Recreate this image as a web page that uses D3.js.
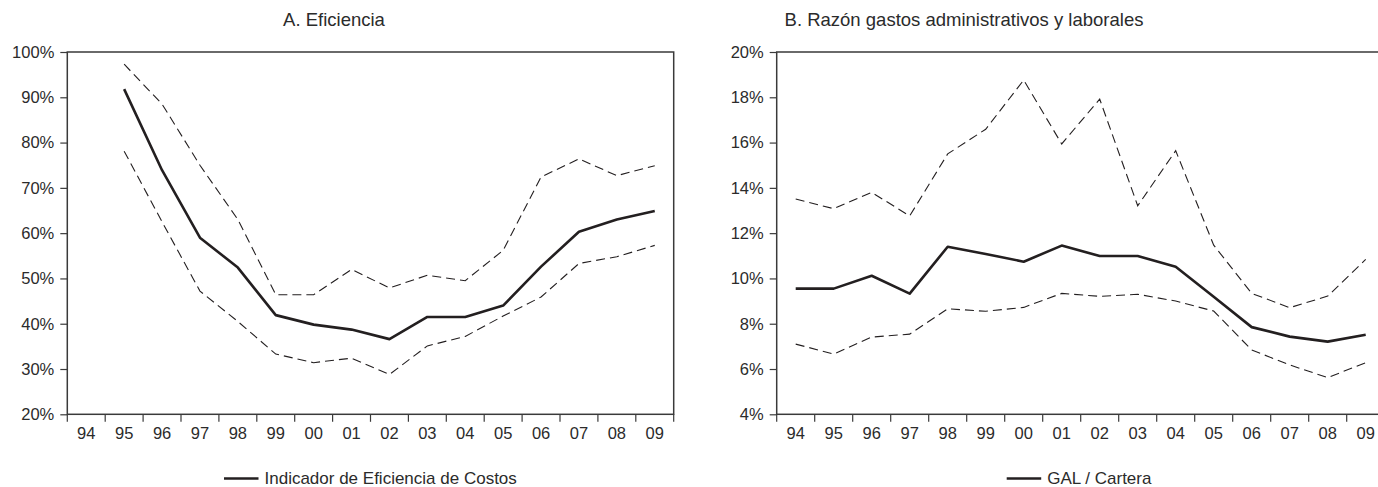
<!DOCTYPE html>
<html>
<head>
<meta charset="utf-8">
<script src="https://cdn.jsdelivr.net/npm/d3@7/dist/d3.min.js"></script>
<style>
  html, body { margin: 0; padding: 0; background: #fff; }
  svg { display: block; font-family: "Liberation Sans", Arial, Helvetica, sans-serif; }
</style>
</head>
<body>
<svg id="chart" width="1378" height="487"></svg>
<script>
// ---------- data ----------
const years = ["94","95","96","97","98","99","00","01","02","03","04","05","06","07","08","09"];

// Panel A: Eficiencia (%)
const effMain  = [null, 91.8, 73.9, 59.0, 52.4, 41.9, 39.8, 38.7, 36.6, 41.5, 41.5, 44.0, 52.6, 60.3, 63.0, 64.9];
const effUpper = [null, 97.3, 88.5, 75.0, 63.0, 46.4, 46.4, 52.0, 47.9, 50.7, 49.5, 56.2, 72.4, 76.4, 72.7, 74.9];
const effLower = [null, 78.1, 62.5, 47.2, 40.5, 33.3, 31.4, 32.4, 28.8, 35.1, 37.2, 41.7, 45.9, 53.3, 54.8, 57.3];
const effTicks = [20, 30, 40, 50, 60, 70, 80, 90, 100];

// Panel B: GAL / Cartera (%)
const galMain  = [9.55, 9.55, 10.12, 9.33, 11.40, 11.08, 10.74, 11.45, 10.99, 10.99, 10.52, 9.19, 7.85, 7.43, 7.21, 7.51];
const galUpper = [13.51, 13.08, 13.80, 12.76, 15.50, 16.59, 18.76, 15.94, 17.92, 13.21, 15.64, 11.47, 9.34, 8.71, 9.22, 10.84];
const galLower = [7.10, 6.66, 7.41, 7.54, 8.66, 8.55, 8.72, 9.34, 9.21, 9.30, 9.00, 8.56, 6.84, 6.18, 5.62, 6.28];
const galTicks = [4, 6, 8, 10, 12, 14, 16, 18, 20];

const titles = ["A. Eficiencia", "B. Razón gastos administrativos y laborales"];
const legendLabels = ["Indicador de Eficiencia de Costos", "GAL / Cartera"];

// ---------- drawing ----------
const svg = d3.select("#chart");
const ink = "#231f20";
const textColor = "#2b2b2b";

const panels = [
  { x0: 67.3, x1: 673.7, y0: 414.3, y1: 52, domain: [20, 100], ticks: effTicks,
    main: effMain, upper: effUpper, lower: effLower, title: titles[0], titleX: 334,
    legend: legendLabels[0], legX: 224 },
  { x0: 776.7, x1: 1384.7, y0: 414.3, y1: 52, domain: [4, 20], ticks: galTicks,
    main: galMain, upper: galUpper, lower: galLower, title: titles[1], titleX: 964,
    legend: legendLabels[1], legX: 1006.7 }
];

panels.forEach(p => {
  const g = svg.append("g");
  const x = d3.scaleBand().domain(years).range([p.x0, p.x1]).padding(0);
  const y = d3.scaleLinear().domain(p.domain).range([p.y0, p.y1]);

  // frame
  g.append("rect")
    .attr("x", p.x0).attr("y", p.y1)
    .attr("width", p.x1 - p.x0).attr("height", p.y0 - p.y1)
    .attr("fill", "none").attr("stroke", "#3a3a3a").attr("stroke-width", 1.5);

  // y axis
  const yAxis = d3.axisLeft(y).tickValues(p.ticks).tickSize(7).tickPadding(6)
    .tickFormat(d => d + "%");
  const ya = g.append("g").attr("transform", `translate(${p.x0},0)`).call(yAxis);
  ya.select(".domain").remove();
  ya.selectAll(".tick line").attr("stroke", "#3a3a3a").attr("stroke-width", 1.2);
  ya.selectAll(".tick text").attr("fill", textColor).style("font-size", "16.5px")
    .style("font-family", '"Liberation Sans", Arial, Helvetica, sans-serif');

  // x axis labels (no tick marks, centred in bands)
  const xAxis = d3.axisBottom(x).tickSize(0).tickPadding(13);
  const xa = g.append("g").attr("transform", `translate(0,${p.y0})`).call(xAxis);
  xa.select(".domain").remove();
  xa.selectAll(".tick text").attr("fill", textColor).style("font-size", "16.5px")
    .style("font-family", '"Liberation Sans", Arial, Helvetica, sans-serif');

  // x tick marks at band boundaries
  const bounds = years.map(d => x(d)).concat([x.range()[1]]);
  g.selectAll(".xtick").data(bounds).enter().append("line")
    .attr("x1", d => d).attr("x2", d => d)
    .attr("y1", p.y0).attr("y2", p.y0 + 7.5)
    .attr("stroke", "#3a3a3a").attr("stroke-width", 1.2);

  const line = d3.line()
    .defined(d => d.v != null)
    .x(d => x(d.k) + x.bandwidth() / 2)
    .y(d => y(d.v));
  const toPts = arr => years.map((k, i) => ({ k, v: arr[i] }));

  [p.upper, p.lower].forEach(arr => {
    g.append("path").datum(toPts(arr))
      .attr("d", line).attr("fill", "none")
      .attr("stroke", ink).attr("stroke-width", 1.1)
      .attr("stroke-dasharray", "9,5");
  });
  g.append("path").datum(toPts(p.main))
    .attr("d", line).attr("fill", "none")
    .attr("stroke", ink).attr("stroke-width", 2.6)
    .attr("stroke-linejoin", "round");

  // title
  svg.append("text").attr("x", p.titleX).attr("y", 26)
    .attr("text-anchor", "middle").attr("fill", textColor)
    .style("font-size", "18.5px").text(p.title);

  // legend
  svg.append("line").attr("x1", p.legX).attr("x2", p.legX + 34.5)
    .attr("y1", 478.5).attr("y2", 478.5)
    .attr("stroke", ink).attr("stroke-width", 2.6);
  svg.append("text").attr("x", p.legX + 40.5).attr("y", 483.5)
    .attr("fill", textColor).style("font-size", "17px").text(p.legend);
});
</script>
</body>
</html>
